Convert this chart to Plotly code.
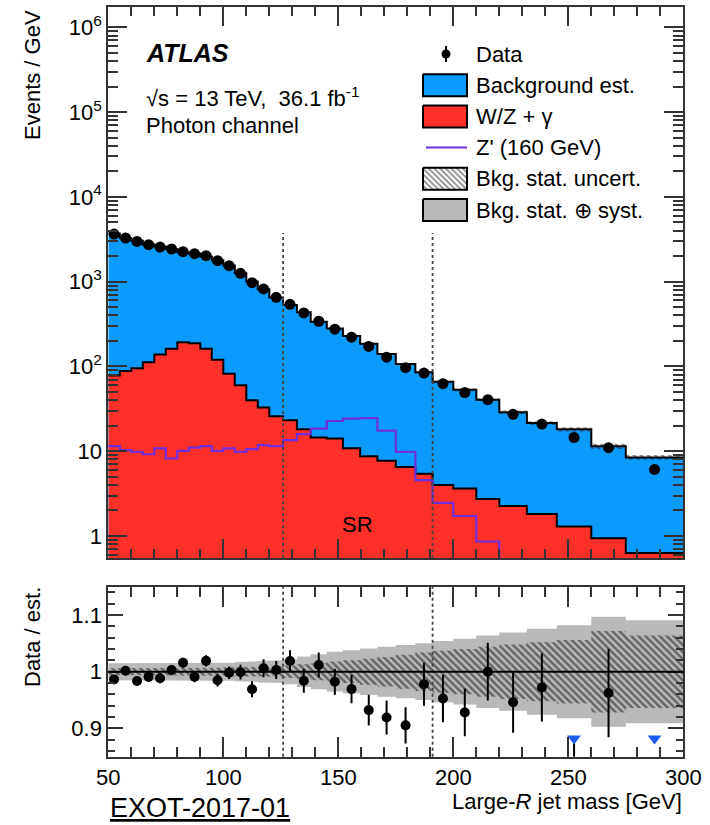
import plotly.graph_objects as go

# ---------------- data ----------------
bin_edges = [50, 55, 60, 65, 70, 75, 80, 85, 90, 95, 100, 105, 110, 115, 120, 126,
             132, 138, 145, 152, 159.5, 167, 175, 183.5, 191, 200, 210, 220, 232,
             245, 260, 275, 300]

data_vals = [3640, 3270, 2980, 2725, 2560, 2427, 2253, 2135, 2022, 1766, 1542, 1252,
             973, 820, 653, 540, 428, 341, 275, 221, 172, 128.5, 96.6, 83.4, 62.6,
             49.1, 40.5, 27.2, 20.9, 14.5, 11.0, 6.1]

bkg_total = [3690, 3265, 3030, 2750, 2590, 2420, 2218, 2154, 1984, 1793, 1545, 1253,
             1004, 815, 651, 530, 435, 337, 280, 228, 184.5, 139.8, 106.7, 85.3, 65.7,
             52.9, 40.5, 28.75, 21.5, 18.1, 11.43, 8.45]

wz_gamma = [78, 88, 95, 112, 138, 162, 193, 188, 162, 120, 82, 60, 40, 32.7, 25.8,
            23.2, 18.1, 14.5, 14.1, 10.8, 8.7, 7.7, 6.5, 5.4, 3.98, 3.64, 2.72, 2.25,
            1.81, 1.29, 0.94, 0.63]

zprime_160 = [11.5, 10.3, 9.8, 9.2, 10.8, 8.2, 10.1, 11.0, 11.5, 10.1, 10.8, 9.8, 10.6,
              11.8, 11.5, 13.5, 15.9, 18.5, 22.7, 24.2, 24.6, 17.5, 9.8, 4.56, 2.46,
              1.72, 0.86, 0, 0, 0, 0, 0]

ratio_err = [0.007, 0.008, 0.008, 0.009, 0.009, 0.009, 0.009, 0.010, 0.010, 0.011,
             0.011, 0.013, 0.014, 0.016, 0.016, 0.019, 0.021, 0.022, 0.023, 0.025,
             0.027, 0.030, 0.032, 0.038, 0.042, 0.042, 0.051, 0.054, 0.060, 0.085,
             0.078, 0.060]

stat_rel = [0.006, 0.006, 0.006, 0.006, 0.006, 0.007, 0.007, 0.007, 0.007, 0.007,
            0.008, 0.008, 0.008, 0.009, 0.009, 0.011, 0.013, 0.015, 0.018, 0.020,
            0.023, 0.026, 0.030, 0.034, 0.037, 0.040, 0.044, 0.048, 0.052, 0.056,
            0.072, 0.064]

stat_syst_rel = [0.015, 0.015, 0.015, 0.015, 0.015, 0.015, 0.015, 0.015, 0.015, 0.015,
                 0.016, 0.017, 0.018, 0.019, 0.020, 0.022, 0.027, 0.031, 0.035, 0.038,
                 0.041, 0.044, 0.047, 0.050, 0.054, 0.058, 0.064, 0.069, 0.076, 0.082,
                 0.097, 0.091]

sr_bounds = [126, 191]

x_tick_vals = [50, 100, 150, 200, 250, 300]
y_tick_vals = [1, 10, 100, 1e3, 1e4, 1e5, 1e6]
y_tick_text = ["1", "10", "10<sup>2</sup>", "10<sup>3</sup>", "10<sup>4</sup>",
               "10<sup>5</sup>", "10<sup>6</sup>"]
ratio_tick_vals = [0.9, 1.0, 1.1]
ratio_tick_text = ["0.9", "1", "1.1"]

# ---------------- style ----------------
FONT = "Liberation Sans, Arial, Helvetica, sans-serif"
BLUE = "#0b9bfd"
RED = "#ff2f2a"
PURPLE = "#6f2fdc"
GRAY = "#b9b9b9"
TRI = "#1d5cf0"
FRAME = "#333333"
W, H = 710, 825
XDOM = [108.3 / W, 683.3 / W]
YDOM_MAIN = [(H - 558) / H, (H - 7.3) / H]
YDOM_RATIO = [(H - 756.7) / H, (H - 586.7) / H]
RATIO_RANGE = [0.85, 1.15]
ARROW_LEVEL = 0.882
FLOOR = 1e-2

n = len(data_vals)
centers = [(a + b) / 2 for a, b in zip(bin_edges[:-1], bin_edges[1:])]


def step(v):
    return list(v) + [v[-1]]


def band(lo, hi):
    xs, ys = [], []
    for i in range(n):
        xs += [bin_edges[i], bin_edges[i + 1]]
        ys += [hi[i], hi[i]]
    for i in reversed(range(n)):
        xs += [bin_edges[i + 1], bin_edges[i]]
        ys += [lo[i], lo[i]]
    xs.append(xs[0])
    ys.append(ys[0])
    return xs, ys


hatch = dict(shape="\\", fgcolor="#111111", bgcolor="rgba(0,0,0,0)", size=5, solidity=0.5)

fig = go.Figure()

# ---- main panel ----
base = dict(x=[bin_edges[0], bin_edges[-1]], y=[FLOOR, FLOOR], mode="lines",
            line=dict(width=0), showlegend=False, hoverinfo="skip", xaxis="x", yaxis="y")
fig.add_trace(go.Scatter(**base))
fig.add_trace(go.Scatter(x=bin_edges, y=step(bkg_total), mode="lines", line_shape="hv",
                         fill="tonexty", fillcolor=BLUE, line=dict(color="black", width=2),
                         showlegend=False, xaxis="x", yaxis="y"))
fig.add_trace(go.Scatter(**base))
fig.add_trace(go.Scatter(x=bin_edges, y=step(wz_gamma), mode="lines", line_shape="hv",
                         fill="tonexty", fillcolor=RED, line=dict(color="black", width=2),
                         showlegend=False, xaxis="x", yaxis="y"))
bx, by = band([t * (1 - s) for t, s in zip(bkg_total, stat_rel)],
              [t * (1 + s) for t, s in zip(bkg_total, stat_rel)])
fig.add_trace(go.Scatter(x=bx, y=by, mode="lines", fill="toself", fillcolor="rgba(0,0,0,0)",
                         fillpattern=hatch, line=dict(width=0), showlegend=False,
                         xaxis="x", yaxis="y"))
fig.add_trace(go.Scatter(x=bin_edges, y=step([v if v > 0 else FLOOR for v in zprime_160]),
                         mode="lines", line_shape="hv", line=dict(color=PURPLE, width=2.2),
                         showlegend=False, xaxis="x", yaxis="y"))
fig.add_trace(go.Scatter(x=centers, y=data_vals, mode="markers",
                         marker=dict(color="black", size=11), showlegend=False,
                         xaxis="x", yaxis="y"))

# ---- ratio panel ----
gx, gy = band([1 - s for s in stat_syst_rel], [1 + s for s in stat_syst_rel])
fig.add_trace(go.Scatter(x=gx, y=gy, mode="lines", fill="toself", fillcolor=GRAY,
                         line=dict(width=0), showlegend=False, xaxis="x2", yaxis="y2"))
hx, hy = band([1 - s for s in stat_rel], [1 + s for s in stat_rel])
fig.add_trace(go.Scatter(x=hx, y=hy, mode="lines", fill="toself", fillcolor="rgba(0,0,0,0)",
                         fillpattern=hatch, line=dict(width=0), showlegend=False,
                         xaxis="x2", yaxis="y2"))
ratio = [d / b for d, b in zip(data_vals, bkg_total)]
fig.add_trace(go.Scatter(x=centers, y=ratio, mode="markers",
                         marker=dict(color="black", size=10),
                         error_y=dict(type="data", array=ratio_err, color="black",
                                      thickness=2, width=0),
                         showlegend=False, xaxis="x2", yaxis="y2"))
low_x = [c for c, r in zip(centers, ratio) if r < RATIO_RANGE[0]]
fig.add_trace(go.Scatter(x=low_x, y=[ARROW_LEVEL] * len(low_x), mode="markers",
                         marker=dict(symbol="triangle-down", color=TRI, size=12),
                         showlegend=False, xaxis="x2", yaxis="y2"))

# ---- hand-drawn legend (overlay axis in pixel units) ----
LX0, LX1, LTX = 423, 467, 474
rows = [54 + 31.2 * i for i in range(6)]
BH = 11


def box(yc, fillcolor, pattern=None):
    d = dict(x=[LX0, LX1, LX1, LX0, LX0], y=[yc - BH, yc - BH, yc + BH, yc + BH, yc - BH],
             mode="lines", fill="toself", fillcolor=fillcolor,
             line=dict(color="black", width=2), showlegend=False, hoverinfo="skip",
             xaxis="x3", yaxis="y3")
    if pattern:
        d["fillpattern"] = pattern
    return go.Scatter(**d)


fig.add_trace(go.Scatter(x=[(LX0 + LX1) / 2 + 1], y=[rows[0]], mode="markers",
                         marker=dict(color="black", size=9),
                         error_y=dict(type="data", array=[8], color="black", thickness=2, width=0),
                         showlegend=False, hoverinfo="skip", xaxis="x3", yaxis="y3"))
fig.add_trace(box(rows[1], BLUE))
fig.add_trace(box(rows[2], RED))
fig.add_trace(go.Scatter(x=[LX0 + 3, LX1], y=[rows[3], rows[3]], mode="lines",
                         line=dict(color=PURPLE, width=2), showlegend=False,
                         hoverinfo="skip", xaxis="x3", yaxis="y3"))
fig.add_trace(box(rows[4], "white", dict(shape="\\", fgcolor="#111111", bgcolor="white",
                                          size=4, solidity=0.45)))
fig.add_trace(box(rows[5], GRAY))

legend_labels = ["Data", "Background est.", "W/Z + γ", "Z' (160 GeV)",
                 "Bkg. stat. uncert.", "Bkg. stat. ⊕ syst."]

annotations = []
for lab, yc in zip(legend_labels, rows):
    annotations.append(dict(text=lab, x=LTX, y=yc, xref="x3", yref="y3", xanchor="left",
                            yanchor="middle", showarrow=False,
                            font=dict(size=22, family=FONT, color="black")))


def ptxt(text, xp, yp, size=22, xanchor="left", angle=0, fam=FONT):
    return dict(text=text, x=xp / W, y=1 - yp / H, xref="paper", yref="paper",
                xanchor=xanchor, yanchor="middle", showarrow=False, textangle=angle,
                font=dict(size=size, family=fam, color="black"))


annotations += [
    ptxt("<b><i>ATLAS</i></b>", 144, 53, size=25),
    ptxt("√s = 13 TeV,  36.1 fb<sup>-1</sup>", 144, 97),
    ptxt("Photon channel", 144, 126),
    ptxt("Events / GeV", 32, 75, angle=-90, xanchor="center"),
    ptxt("Data / est.", 32, 637, angle=-90, xanchor="center"),
    ptxt("Large-<i>R</i> jet mass [GeV]", 684, 801, xanchor="right"),
    ptxt("<u>EXOT-2017-01</u>", 200, 808, size=27, xanchor="center"),
    dict(text="SR", x=sum(sr_bounds) / 2, y=0.06, xref="x", yref="y domain",
         xanchor="center", yanchor="middle", showarrow=False,
         font=dict(size=22, family=FONT, color="black")),
]

shapes = []
for xb in sr_bounds:
    shapes.append(dict(type="line", x0=xb, x1=xb, xref="x", y0=0, y1=0.59, yref="y domain",
                       line=dict(color="#444444", width=1.8, dash="3px,3px"), layer="above"))
    shapes.append(dict(type="line", x0=xb, x1=xb, xref="x2", y0=0, y1=1, yref="y2 domain",
                       line=dict(color="#444444", width=1.8, dash="3px,3px"), layer="above"))
shapes.append(dict(type="line", x0=0, x1=1, xref="x2 domain", y0=1, y1=1, yref="y2",
                   line=dict(color="black", width=2), layer="above"))

minor_x = [v for v in range(50, 301, 10)]
minor_y = [m * 10 ** e for e in range(-1, 7) for m in range(2, 10)]
minor_r = [round(0.86 + 0.02 * i, 2) for i in range(15)]

axis_common = dict(showline=True, linecolor=FRAME, linewidth=2, mirror="allticks",
                   ticks="inside", tickcolor=FRAME, tickwidth=1.5, showgrid=False,
                   zeroline=False, automargin=False,
                   tickfont=dict(size=22, family=FONT, color="black"))

fig.update_layout(
    width=W, height=H, margin=dict(l=0, r=0, t=0, b=0, pad=0, autoexpand=False),
    paper_bgcolor="white", plot_bgcolor="rgba(0,0,0,0)",
    font=dict(family=FONT, size=22, color="black"),
    showlegend=False,
    xaxis=dict(domain=XDOM, range=[50, 300], anchor="y", showticklabels=False,
               tickmode="array", tickvals=x_tick_vals, ticklen=19,
               minor=dict(tickmode="array", tickvals=minor_x, ticks="inside", ticklen=9,
                          tickcolor=FRAME, tickwidth=1.5),
               **axis_common),
    yaxis=dict(domain=YDOM_MAIN, type="log", range=[-0.26, 6.236], anchor="x",
               tickmode="array", tickvals=y_tick_vals, ticktext=y_tick_text, ticklen=19,
               minor=dict(tickmode="array", tickvals=minor_y, ticks="inside", ticklen=10,
                          tickcolor=FRAME, tickwidth=1.5),
               **axis_common),
    xaxis2=dict(domain=XDOM, range=[50, 300], anchor="y2", tickmode="array",
                tickvals=x_tick_vals, ticklen=20,
                minor=dict(tickmode="array", tickvals=minor_x, ticks="inside", ticklen=10,
                           tickcolor=FRAME, tickwidth=1.5),
                **axis_common),
    yaxis2=dict(domain=YDOM_RATIO, range=RATIO_RANGE, anchor="x2", tickmode="array",
                tickvals=ratio_tick_vals, ticktext=ratio_tick_text, ticklen=15,
                minor=dict(tickmode="array", tickvals=minor_r, ticks="inside", ticklen=7,
                           tickcolor=FRAME, tickwidth=1.5),
                **axis_common),
    xaxis3=dict(domain=[0, 1], range=[0, W], anchor="y3", visible=False, fixedrange=True,
                automargin=False),
    yaxis3=dict(domain=[0, 1], range=[H, 0], anchor="x3", visible=False, fixedrange=True,
                automargin=False),
    annotations=annotations,
    shapes=shapes,
)

fig.write_html("out.html")
